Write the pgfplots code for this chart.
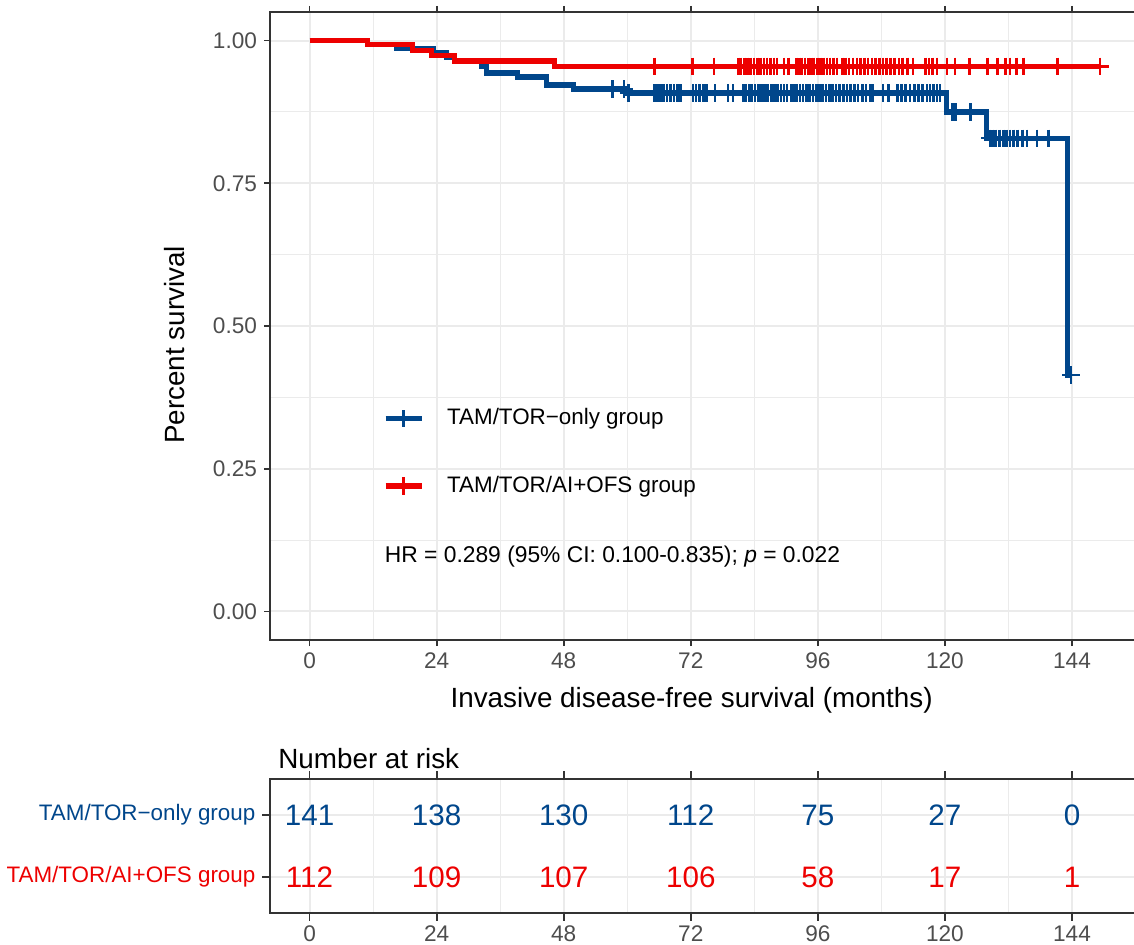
\documentclass[border=0pt]{standalone}
\usepackage{pgfplots}
\pgfplotsset{compat=1.18}
\usepackage{fontspec}
\setmainfont{Liberation Sans}
\definecolor{blueK}{HTML}{00468B}
\definecolor{redK}{HTML}{ED0000}
\definecolor{gridc}{HTML}{EBEBEB}
\definecolor{framec}{HTML}{333333}
\definecolor{tickc}{HTML}{4D4D4D}

\pgfplotsset{kmbase/.style={
  scale only axis, width=434.9pt,
  xmin=-7.47, xmax=156.8,
  xtick={0,24,48,72,96,120,144}, minor x tick num=1,
  tick align=outside, major tick length=3pt, minor tick length=0pt,
  every major tick/.append style={framec, line width=0.9pt},
  axis line style={framec, line width=1pt},
  grid=both,
  major grid style={gridc, line width=1pt},
  minor grid style={gridc, line width=0.5pt},
  tick label style={font=\fontsize{11.3pt}{13pt}\selectfont, text=tickc},
  /pgf/number format/assume math mode=true,
}}

\begin{document}
\begin{tikzpicture}
\path[use as bounding box] (0,0) rectangle (567pt,472pt);

\begin{axis}[kmbase, at={(135pt,152pt)}, anchor=south west, height=314pt,
  ymin=-0.05, ymax=1.05, ytick={0,0.25,0.5,0.75,1}, minor y tick num=1,
  yticklabel style={/pgf/number format/.cd, fixed, fixed zerofill, precision=2},
  xlabel={Invasive disease-free survival (months)},
  ylabel={Percent survival},
  label style={font=\fontsize{13.9pt}{16pt}\selectfont, text=black},
  xlabel style={at={(axis description cs:0.4847,-0.0955)}, anchor=center},
  ylabel style={at={(axis description cs:-0.1092,0.47)}, anchor=center},
  legend cell align=left,
  legend style={draw=none, fill=none, at={(axis cs:12.65,0.279)}, anchor=west,
    font=\fontsize{11.2pt}{13pt}\selectfont, row sep=24pt, column sep=11.5pt,
    nodes={inner sep=0pt}},
]
% blue curve
\addplot[const plot, blueK, line width=2.6pt, forget plot] coordinates {
(0,1.000) (11,0.993) (16.4,0.986) (23.3,0.979) (25.8,0.971) (27.4,0.964)
(32.5,0.954) (33.4,0.943) (39.2,0.936) (44.8,0.922) (49.8,0.915) (60.0,0.908)
(120.3,0.875) (127.8,0.829) (143.1,0.414) (143.8,0.414)};
\addplot[only marks, mark=+, blueK, mark size=4.3pt, mark options={line width=1.3pt}, forget plot] coordinates {
(57.2,0.915) (59.4,0.915)
(60.2,0.908) (65.2,0.908) (65.7,0.908) (66.3,0.908) (66.9,0.908) (67.5,0.908) (68.2,0.908) (68.8,0.908)
(69.5,0.908) (70.0,0.908) (72.4,0.908) (73.0,0.908) (73.7,0.908) (74.4,0.908) (75.0,0.908) (76.6,0.908)
(79.0,0.908) (80.0,0.908) (81.9,0.908) (82.4,0.908) (83.0,0.908) (83.5,0.908) (84.1,0.908) (84.8,0.908)
(85.3,0.908) (85.9,0.908) (86.5,0.908) (87.2,0.908) (87.8,0.908) (88.4,0.908) (89.0,0.908) (89.6,0.908)
(90.2,0.908) (90.9,0.908) (91.4,0.908) (92.0,0.908) (92.6,0.908) (93.2,0.908) (93.8,0.908) (94.4,0.908)
(95.1,0.908) (95.7,0.908) (96.3,0.908) (96.9,0.908) (97.5,0.908) (98.2,0.908) (98.8,0.908) (99.4,0.908)
(100.1,0.908) (100.8,0.908) (101.5,0.908) (102.2,0.908) (102.9,0.908) (103.6,0.908) (104.4,0.908)
(105.1,0.908) (105.9,0.908) (106.4,0.908) (108.3,0.908) (109.3,0.908) (111.0,0.908) (111.8,0.908)
(112.6,0.908) (113.4,0.908) (114.2,0.908) (115.0,0.908) (115.8,0.908) (116.6,0.908) (117.2,0.908)
(117.8,0.908) (118.5,0.908) (119.1,0.908)
(121.4,0.875) (122.0,0.875) (124.8,0.875)
(128.5,0.829) (129.0,0.829) (129.6,0.829) (130.3,0.829) (131.0,0.829) (131.6,0.829) (132.3,0.829)
(133.0,0.829) (133.7,0.829) (134.6,0.829) (135.5,0.829) (137.4,0.829) (139.5,0.829)
(143.8,0.414)};
% red curve
\addplot[const plot, redK, line width=2.6pt, forget plot] coordinates {
(0,1.000) (11,0.993) (19.5,0.982) (23,0.974) (27.4,0.964) (46.3,0.955) (149.3,0.955)};
\addplot[only marks, mark=+, redK, mark size=4.3pt, mark options={line width=1.3pt}, forget plot] coordinates {
(65.2,0.955) (72.3,0.955) (76.4,0.955) (81.0,0.955) (81.5,0.955) (82.1,0.955) (82.7,0.955) (83.3,0.955)
(83.9,0.955) (84.6,0.955) (85.2,0.955) (85.8,0.955) (86.4,0.955) (87.0,0.955) (87.7,0.955) (88.3,0.955)
(89.6,0.955) (90.4,0.955) (92.0,0.955) (92.5,0.955) (93.0,0.955) (93.6,0.955) (94.2,0.955) (94.8,0.955)
(95.3,0.955) (95.9,0.955) (96.5,0.955) (97.1,0.955) (97.7,0.955) (98.3,0.955) (98.9,0.955) (99.6,0.955)
(100.6,0.955) (101.2,0.955) (101.9,0.955) (102.6,0.955) (103.4,0.955) (104.1,0.955) (104.8,0.955)
(105.5,0.955) (106.2,0.955) (106.9,0.955) (107.6,0.955) (108.3,0.955) (109.0,0.955) (109.7,0.955)
(110.5,0.955) (111.3,0.955) (112.0,0.955) (112.9,0.955) (114.0,0.955) (116.3,0.955) (117.0,0.955)
(117.6,0.955) (118.5,0.955) (120.4,0.955) (121.9,0.955) (124.6,0.955) (128.0,0.955) (129.9,0.955)
(131.4,0.955) (132.3,0.955) (133.5,0.955) (134.8,0.955) (141.2,0.955) (149.3,0.955)};

\addlegendimage{legend image code/.code={\draw[blueK,line width=2.6pt] (0pt,0pt)--(18pt,0pt); \draw[blueK,line width=1.3pt] (9pt,-4.3pt)--(9pt,4.3pt);}}
\addlegendentry{TAM/TOR−only group}
\addlegendimage{legend image code/.code={\draw[redK,line width=2.6pt] (0pt,0pt)--(18pt,0pt); \draw[redK,line width=1.3pt] (9pt,-4.3pt)--(9pt,4.3pt);}}
\addlegendentry{TAM/TOR/AI+OFS group}

\node[anchor=west, inner sep=0pt, font=\fontsize{11.4pt}{13pt}\selectfont] at (axis cs:14.17,0.0963)
  {HR = 0.289 (95\% CI: 0.100-0.835); \textit{p} = 0.022};
\end{axis}

\begin{axis}[kmbase, at={(135pt,15.5pt)}, anchor=south west, height=67pt,
  ymin=0.42, ymax=2.58, ytick={1,2}, minor y tick num=0,
  major tick length=3.8pt,
  xticklabel style={yshift=1pt},
  yticklabels={{\textcolor{redK}{TAM/TOR/AI+OFS group}},{\textcolor{blueK}{TAM/TOR−only group}}},
  yticklabel style={font=\fontsize{11.2pt}{13pt}\selectfont},
  title={Number at risk},
  title style={at={(axis description cs:0.0092,1)}, anchor=base west, yshift=-0.8pt, inner sep=0pt,
    font=\fontsize{13.9pt}{16pt}\selectfont},
]
\addplot[only marks, mark=none, nodes near coords, point meta=explicit symbolic,
  nodes near coords style={anchor=center, font=\fontsize{14.8pt}{17pt}\selectfont, text=blueK}]
  table[meta=label] {
x y label
0 2 141
24 2 138
48 2 130
72 2 112
96 2 75
120 2 27
144 2 0
};
\addplot[only marks, mark=none, nodes near coords, point meta=explicit symbolic,
  nodes near coords style={anchor=center, font=\fontsize{14.8pt}{17pt}\selectfont, text=redK}]
  table[meta=label] {
x y label
0 1 112
24 1 109
48 1 107
72 1 106
96 1 58
120 1 17
144 1 1
};
\end{axis}
\end{tikzpicture}
\end{document}
